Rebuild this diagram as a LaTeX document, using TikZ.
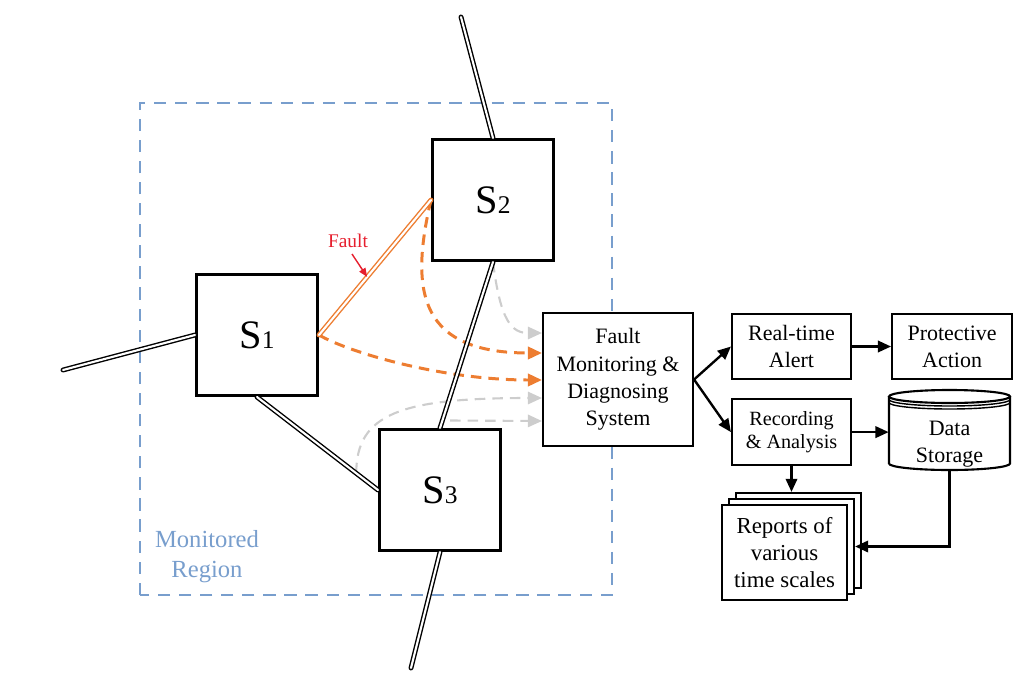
\documentclass[tikz,border=0pt]{standalone}
\usepackage{fontspec}
\setmainfont{Liberation Serif}
\usepackage{tikz}
\usetikzlibrary{arrows.meta,positioning,calc}

\definecolor{faultorange}{RGB}{237,125,49}
\definecolor{faultred}{RGB}{230,30,45}
\definecolor{regionblue}{RGB}{120,158,205}
\definecolor{flowgray}{RGB}{205,205,205}

\newcommand{\stationlabel}[1]{{\fontsize{23}{23}\selectfont S}{\fontsize{14.5}{14.5}\selectfont #1}}

\begin{document}
\begin{tikzpicture}[
    >={Triangle[length=7.5pt,width=6.5pt]},
    station/.style={rectangle, draw, fill=white, line width=1.7pt, minimum size=2.42cm, inner sep=0pt},
    procbox/.style={rectangle, draw, fill=white, line width=1.2pt, align=center, inner sep=0pt,
        font=\fontsize{12.5}{15.5}\selectfont},
    cable/.style={draw=black, double=white, line width=0.8pt, double distance=1.2pt, line cap=round},
    faultcable/.style={cable, draw=faultorange},
    flow/.style={->, line width=1.35pt},
    signal/.style={-{Triangle[length=8pt,width=7pt]}, faultorange, line width=1.7pt, dash pattern=on 6pt off 4pt},
    idle/.style={-{Triangle[length=8pt,width=7pt]}, flowgray, line width=1.2pt, dash pattern=on 6pt off 4pt}
]
\useasboundingbox (0,0) rectangle (20.56,13.64);

% monitored region
\draw[regionblue, line width=0.8pt, dash pattern=on 7pt off 5pt] (2.8,1.74) rectangle (12.24,11.58);
\node[text=regionblue, align=center, font=\fontsize{14}{17}\selectfont] (region) at (4.14,2.5) {Monitored\\Region};

% substations
\node[station] (S1) at (5.14,6.94) {\stationlabel{1}};
\node[station] (S2) at (9.86,9.64) {\stationlabel{2}};
\node[station] (S3) at (8.80,3.84) {\stationlabel{3}};

\coordinate (feedW) at (1.26,6.24);
\coordinate (feedN) at (9.22,13.30);
\coordinate (feedS) at (8.22,0.28);

% diagnosis chain
\node[procbox, minimum width=3cm, minimum height=2.66cm] (FMDS) at (12.36,6.05) {Fault\\Monitoring \&\\Diagnosing\\System};
\node[procbox, minimum width=2.38cm, minimum height=1.3cm] (RTA) at (15.83,6.71) {Real-time\\Alert};
\node[procbox, minimum width=2.4cm, minimum height=1.3cm] (PA) [right=0.78cm of RTA] {Protective\\Action};
\node[procbox, minimum width=2.38cm, minimum height=1.32cm, font=\fontsize{11.5}{13}\selectfont] (RecA) [below=0.36cm of RTA] {Recording\\\& Analysis};

% data storage cylinder
\draw[line width=1.2pt] (17.78,5.71) -- (17.78,4.37) arc[start angle=180, end angle=360, x radius=1.21cm, y radius=0.13cm] -- (20.20,5.71);
\draw[line width=1.2pt] (18.99,5.71) ellipse [x radius=1.21cm, y radius=0.13cm];
\draw[line width=0.8pt] (17.78,5.65) arc[start angle=180, end angle=360, x radius=1.21cm, y radius=0.13cm];
\draw[line width=0.8pt] (17.78,5.59) arc[start angle=180, end angle=360, x radius=1.21cm, y radius=0.13cm];
\node[align=center, font=\fontsize{12.5}{15.5}\selectfont, minimum width=2.42cm, minimum height=1.04cm, inner sep=0pt] (DS) at (18.99,4.76) {Data\\Storage};

% report stack
\node[procbox, minimum width=2.5cm, minimum height=1.9cm] (repC) at (15.97,2.83) {};
\node[procbox, minimum width=2.5cm, minimum height=1.9cm] (repB) at (15.83,2.71) {};
\node[procbox, minimum width=2.5cm, minimum height=1.9cm, font=\fontsize{13}{15.5}\selectfont] (rep) at (15.69,2.59) {Reports of\\various\\time scales};

% measurement flows
\coordinate (inA) at ($(FMDS.west)+(0,0.93)$);
\coordinate (inB) at ($(FMDS.west)+(0,0.53)$);
\coordinate (inC) at ($(FMDS.west)+(0,-0.01)$);
\coordinate (inD) at ($(FMDS.west)+(0,-0.37)$);
\coordinate (inE) at ($(FMDS.west)+(0,-0.83)$);

\draw[idle] (S2.south) .. controls +(0.15,-1.2) and +(-0.6,0) .. (inA);
\draw[idle] ($(S1.south)!0.82!(S3.west)$) .. controls +(0,1.2) and +(-2.8,0) .. (inD);
\draw[idle] ($(S3.north)+(0.2,0.15)$) -- (inE);
\draw[signal] (S2.west) .. controls +(-0.45,-1.9) and +(-2.4,0) .. (inB);
\draw[signal] (S1.east) .. controls +(0.6,-0.35) and +(-2.0,0) .. (inC);

% lines
\draw[cable] (feedW) -- (S1.west);
\draw[cable] (S2.north) -- (feedN);
\draw[cable] (S2.south) -- (S3.north);
\draw[cable] (S1.south) -- (S3.west);
\draw[cable] (S3.south) -- (feedS);
\draw[faultcable] (S1.east) -- (S2.west);

% fault marker
\node[text=faultred, font=\fontsize{11}{11}\selectfont] (faultlbl) at (6.96,8.82) {Fault};
\coordinate (faultpt) at ($(S1.east)!0.43!(S2.west)$);
\draw[->, faultred, line width=0.8pt, >={Triangle[length=5pt,width=4pt]}] ($(faultlbl.south)+(0.08,0)$) -- (faultpt);

% outputs
\draw[flow] (FMDS.east) -- (RTA.west);
\draw[flow] (FMDS.east) -- (RecA.west);
\draw[flow] (RTA) -- (PA);
\draw[flow] (RecA.east) -- (RecA.east -| DS.west);
\draw[flow] (RecA.south) -- (RecA.south |- repC.north);
\draw[flow] (DS.south) |- (repB.east);
\end{tikzpicture}
\end{document}
